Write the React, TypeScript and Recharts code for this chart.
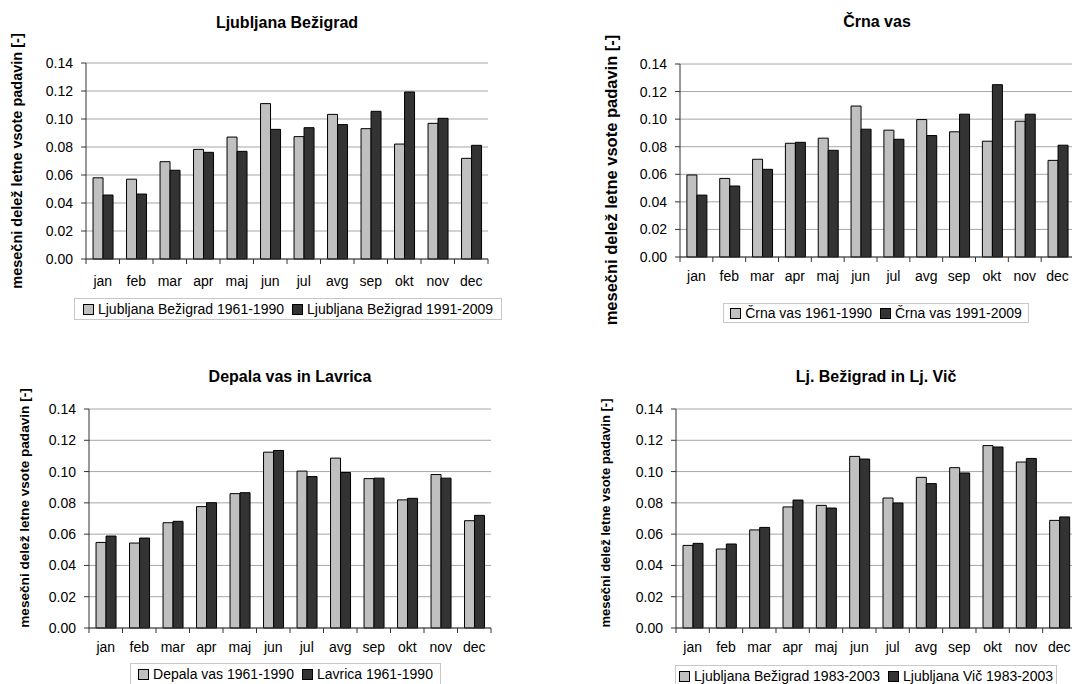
import React from 'react';
import { BarChart, Bar, XAxis, YAxis, CartesianGrid } from 'recharts';

const months = ['jan', 'feb', 'mar', 'apr', 'maj', 'jun', 'jul', 'avg', 'sep', 'okt', 'nov', 'dec'];
const yTicks = [0, 0.02, 0.04, 0.06, 0.08, 0.1, 0.12, 0.14];

const bezigrad6190 = [0.058, 0.057, 0.0695, 0.0783, 0.0871, 0.111, 0.0874, 0.1033, 0.0931, 0.0821, 0.0969, 0.0719];
const bezigrad9109 = [0.0457, 0.0464, 0.0634, 0.0762, 0.0769, 0.0926, 0.0938, 0.096, 0.1055, 0.1193, 0.1005, 0.0812];
const crnaVas6190 = [0.0595, 0.057, 0.0709, 0.0825, 0.0862, 0.1095, 0.092, 0.0997, 0.0908, 0.084, 0.0985, 0.0701];
const crnaVas9109 = [0.0449, 0.0515, 0.0636, 0.0832, 0.0774, 0.0927, 0.0854, 0.0881, 0.1036, 0.125, 0.1036, 0.0811];
const depala6190 = [0.0547, 0.0543, 0.0673, 0.0776, 0.0859, 0.1124, 0.1003, 0.1086, 0.0955, 0.0819, 0.0981, 0.0686];
const lavrica6190 = [0.0588, 0.0575, 0.0682, 0.0801, 0.0865, 0.1135, 0.0968, 0.0994, 0.0958, 0.0829, 0.0958, 0.072];
const bezigrad8303 = [0.0528, 0.0505, 0.0627, 0.0774, 0.0784, 0.1097, 0.0831, 0.0963, 0.1025, 0.1166, 0.1061, 0.0688];
const vic8303 = [0.0541, 0.0537, 0.0643, 0.0818, 0.0767, 0.108, 0.0799, 0.0923, 0.0991, 0.1157, 0.1084, 0.071];

const yTitle = 'mesečni delež letne vsote padavin [-]';
const FONT = '"Liberation Sans", Arial, sans-serif';
const LIGHT = '#c0c0c0';
const DARK = '#333333';

// plot box geometry per chart (L/R/T/B = plot area edges in page px)
const charts = [
  {
    title: 'Ljubljana Bežigrad', names: ['Ljubljana Bežigrad 1961-1990', 'Ljubljana Bežigrad 1991-2009'],
    a: bezigrad6190, b: bezigrad9109,
    L: 86, R: 488, T: 63, B: 259, labelDy: 22, titleY: 23,
    yt: { cx: 17, cy: 161, fs: 14.5 }, legend: { left: 74, top: 298, width: 428, height: 22 },
  },
  {
    title: 'Črna vas', names: ['Črna vas 1961-1990', 'Črna vas 1991-2009'],
    a: crnaVas6190, b: crnaVas9109,
    L: 680, R: 1074, T: 64, B: 257, labelDy: 19, titleY: 22,
    yt: { cx: 611, cy: 180, fs: 16.5 }, legend: { left: 723, top: 303, width: 306, height: 20 },
  },
  {
    title: 'Depala vas in Lavrica', names: ['Depala vas 1961-1990', 'Lavrica 1961-1990'],
    a: depala6190, b: lavrica6190,
    L: 89, R: 491, T: 409, B: 628, labelDy: 19, titleY: 377,
    yt: { cx: 25, cy: 508, fs: 13.6 }, legend: { left: 130, top: 663, width: 311, height: 22 },
  },
  {
    title: 'Lj. Bežigrad in Lj. Vič', names: ['Ljubljana Bežigrad 1983-2003', 'Ljubljana Vič 1983-2003'],
    a: bezigrad8303, b: vic8303,
    L: 676, R: 1076, T: 409, B: 628, labelDy: 19, titleY: 377,
    yt: { cx: 606, cy: 513, fs: 13 }, legend: { left: 675, top: 665, width: 382, height: 22 },
  },
];

const Y_W = 70;
const M_TOP = 10;
const M_RIGHT = 10;
const X_H = 40;

const MonthTick = (props: any) => {
  const { x, y, payload, labelDy } = props;
  const v = payload.value;
  if (Number.isInteger(v)) {
    return <line x1={x} x2={x} y1={y} y2={y + 5} stroke="#333" />;
  }
  return (
    <text x={x} y={y + labelDy} textAnchor="middle" dominantBaseline="central" fontSize={14} fill="#000" fontFamily={FONT}>
      {months[Math.floor(v)]}
    </text>
  );
};

function Legend({ box, names }: any) {
  const colors = [LIGHT, DARK];
  return (
    <div
      style={{
        position: 'absolute', left: box.left, top: box.top, width: box.width, height: box.height,
        boxSizing: 'border-box', border: '1px solid #c8c8c8', display: 'flex', alignItems: 'center',
        justifyContent: 'center', gap: 8, fontSize: 14, color: '#000', whiteSpace: 'nowrap',
      }}
    >
      {names.map((n: string, i: number) => (
        <div key={n} style={{ display: 'flex', alignItems: 'center', gap: 4 }}>
          <span style={{ display: 'inline-block', width: 9, height: 9, background: colors[i], border: '1px solid #000' }} />
          <span>{n}</span>
        </div>
      ))}
    </div>
  );
}

function Panel({ c }: any) {
  const rows = months.map((m, i) => ({ idx: i, month: m, a: c.a[i], b: c.b[i] }));
  const edgeTicks: number[] = [];
  for (let i = 0; i <= months.length; i++) {
    edgeTicks.push(i);
    if (i < months.length) edgeTicks.push(i + 0.5);
  }
  const w = Y_W + (c.R - c.L) + M_RIGHT;
  const h = M_TOP + (c.B - c.T) + X_H;
  const cx = (c.L + c.R) / 2;
  return (
    <>
      <div style={{ position: 'absolute', left: cx - 200, width: 400, top: c.titleY - 8, lineHeight: '16px', fontSize: 16, fontWeight: 'bold', textAlign: 'center' }}>
        {c.title}
      </div>
      <div
        style={{
          position: 'absolute', left: c.yt.cx - 200, top: c.yt.cy - 10, width: 400, height: 20, lineHeight: '20px',
          fontSize: c.yt.fs, fontWeight: 'bold', textAlign: 'center', transform: 'rotate(-90deg)', whiteSpace: 'nowrap',
        }}
      >
        {yTitle}
      </div>
      <div style={{ position: 'absolute', left: c.L - Y_W, top: c.T - M_TOP }}>
        <BarChart width={w} height={h} data={rows} margin={{ top: M_TOP, right: M_RIGHT, left: 0, bottom: 0 }} barCategoryGap="21%" barGap={0}>
          <CartesianGrid xAxisId="cat" vertical={false} stroke="#a6a6a6" />
          <XAxis
            xAxisId="edge"
            type="number"
            dataKey="idx"
            domain={[0, months.length]}
            ticks={edgeTicks}
            interval={0}
            allowDataOverflow
            height={X_H}
            tickSize={0}
            tickMargin={0}
            tickLine={false}
            stroke="#333"
            tick={(p: any) => <MonthTick {...p} labelDy={c.labelDy} />}
          />
          <XAxis xAxisId="cat" dataKey="month" hide height={0} />
          <YAxis
            domain={[0, 0.14]}
            ticks={yTicks}
            interval={0}
            width={Y_W}
            tickSize={5}
            tickMargin={8}
            stroke="#333"
            tick={{ fill: '#000', fontSize: 14, fontFamily: FONT }}
            tickFormatter={(v: number) => v.toFixed(2)}
          />
          <YAxis yAxisId="right" orientation="right" domain={[0, 0.14]} width={0} tick={false} tickLine={false} stroke="#a6a6a6" />
          <Bar xAxisId="cat" dataKey="a" name={c.names[0]} fill={LIGHT} stroke="#000" strokeWidth={1} isAnimationActive={false} />
          <Bar xAxisId="cat" dataKey="b" name={c.names[1]} fill={DARK} stroke="#000" strokeWidth={1} isAnimationActive={false} />
        </BarChart>
      </div>
      <Legend box={c.legend} names={c.names} />
    </>
  );
}

export default function App() {
  return (
    <div style={{ position: 'fixed', left: 0, top: 0, width: 1072, height: 684, overflow: 'hidden', background: '#fff', fontFamily: FONT, color: '#000' }}>
      {charts.map((c) => (
        <Panel key={c.title} c={c} />
      ))}
    </div>
  );
}
